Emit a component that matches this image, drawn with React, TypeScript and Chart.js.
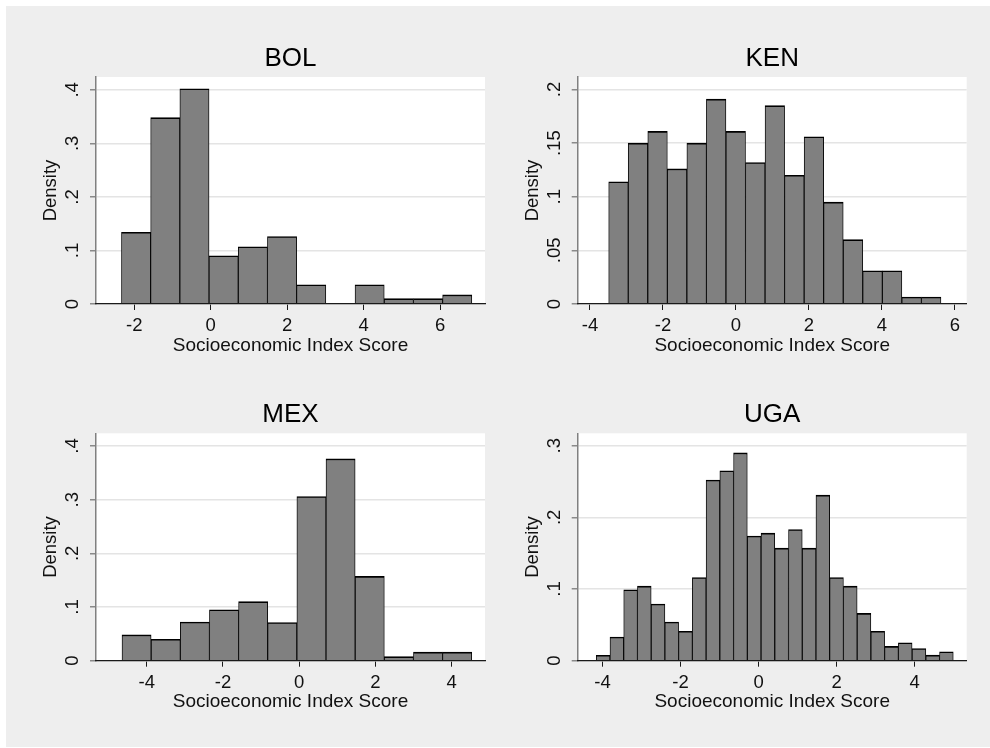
import React, { useEffect, useRef } from 'react';
import { Chart, registerables } from 'chart.js';

Chart.register(...registerables);

// ---------------- data ----------------
const BOL_BINS = [-1.952, -1.189, -0.426, 0.337, 1.101, 1.864, 2.627, 3.391, 4.154, 4.917, 5.681, 6.444];
const BOL_DENSITY = [0.134, 0.348, 0.402, 0.09, 0.107, 0.126, 0.036, 0, 0.036, 0.01, 0.01, 0.017];
const BOL_XTICKS = [-2, 0, 2, 4, 6];
const BOL_YTICKS = [0, 0.1, 0.2, 0.3, 0.4];
const BOL_XRANGE = [-3.0, 7.17];
const BOL_YMAX = 0.424;

const KEN_BINS = [-3.22, -2.685, -2.149, -1.614, -1.078, -0.543, -0.007, 0.528, 1.064, 1.599, 2.135, 2.67, 3.206, 3.741, 4.277, 4.812, 5.348];
const KEN_DENSITY = [0.114, 0.15, 0.161, 0.126, 0.15, 0.191, 0.161, 0.132, 0.185, 0.12, 0.156, 0.095, 0.06, 0.031, 0.031, 0.0065, 0.0065];
const KEN_XTICKS = [-4, -2, 0, 2, 4, 6];
const KEN_YTICKS = [0, 0.05, 0.1, 0.15, 0.2];
const KEN_XRANGE = [-4.337, 6.321];
const KEN_YMAX = 0.2117;

const MEX_BINS = [-4.266, -3.501, -2.737, -1.972, -1.208, -0.444, 0.321, 1.085, 1.85, 2.614, 3.379, 4.143];
const MEX_DENSITY = [0.048, 0.04, 0.072, 0.095, 0.11, 0.071, 0.306, 0.376, 0.157, 0.0075, 0.016, 0.016];
const MEX_XTICKS = [-4, -2, 0, 2, 4];
const MEX_YTICKS = [0, 0.1, 0.2, 0.3, 0.4];
const MEX_XRANGE = [-5.33, 4.873];
const MEX_YMAX = 0.4237;

const UGA_BINS = [-3.985, -3.633, -3.281, -2.929, -2.577, -2.226, -1.874, -1.522, -1.17, -0.818, -0.466, -0.114, 0.238, 0.59, 0.942, 1.294, 1.645, 1.997, 2.349, 2.701, 3.053, 3.405, 3.757, 4.109, 4.461, 4.812];
const UGA_DENSITY = [0.0075, 0.033, 0.099, 0.104, 0.079, 0.054, 0.041, 0.116, 0.252, 0.265, 0.29, 0.174, 0.178, 0.157, 0.183, 0.157, 0.231, 0.116, 0.104, 0.066, 0.041, 0.02, 0.025, 0.017, 0.0078, 0.0125];
const UGA_XTICKS = [-4, -2, 0, 2, 4];
const UGA_YTICKS = [0, 0.1, 0.2, 0.3];
const UGA_XRANGE = [-4.636, 5.332];
const UGA_YMAX = 0.3173;

const X_TITLE = 'Socioeconomic Index Score';
const Y_TITLE = 'Density';

// ---------------- layout / style ----------------
const FONT = '"Liberation Sans", Arial, Helvetica, sans-serif';

const COLS = [
  { x: 6, w: 489, yAxisW: 90, padRight: 10, yTitlePad: 33.7 },
  { x: 495, w: 495, yAxisW: 82.7, padRight: 23.3, yTitlePad: 26.4 },
];
const ROWS = [
  { y: 6, h: 368, titleTop: 37.1, titleBottom: 2.7, xAxisH: 70, xTitlePad: 17.2 },
  { y: 374, h: 373, titleTop: 25.4, titleBottom: 2.7, xAxisH: 86.3, xTitlePad: 33.9 },
];

const PANELS = [
  { name: 'BOL', bins: BOL_BINS, density: BOL_DENSITY, xTicks: BOL_XTICKS, yTicks: BOL_YTICKS, xRange: BOL_XRANGE, yMax: BOL_YMAX, col: 0, row: 0 },
  { name: 'KEN', bins: KEN_BINS, density: KEN_DENSITY, xTicks: KEN_XTICKS, yTicks: KEN_YTICKS, xRange: KEN_XRANGE, yMax: KEN_YMAX, col: 1, row: 0 },
  { name: 'MEX', bins: MEX_BINS, density: MEX_DENSITY, xTicks: MEX_XTICKS, yTicks: MEX_YTICKS, xRange: MEX_XRANGE, yMax: MEX_YMAX, col: 0, row: 1 },
  { name: 'UGA', bins: UGA_BINS, density: UGA_DENSITY, xTicks: UGA_XTICKS, yTicks: UGA_YTICKS, xRange: UGA_XRANGE, yMax: UGA_YMAX, col: 1, row: 1 },
];

const fmtY = (v: number) => {
  if (v === 0) return '0';
  const s = String(Number(v.toFixed(3)));
  return s.replace(/^0\./, '.');
};

function Panel({ panel }: { panel: any }) {
  const ref = useRef<HTMLCanvasElement | null>(null);
  const col = COLS[panel.col];
  const row = ROWS[panel.row];

  useEffect(() => {
    if (!ref.current) return;

    const plotBg = {
      id: 'plotBg',
      beforeDraw(chart: any) {
        const { ctx, chartArea } = chart;
        ctx.save();
        ctx.fillStyle = '#ffffff';
        ctx.fillRect(chartArea.left, chartArea.top, chartArea.right - chartArea.left, chartArea.bottom - chartArea.top);
        ctx.restore();
      },
    };

    const yLabels = {
      id: 'yLabels',
      afterDraw(chart: any) {
        const { ctx, chartArea } = chart;
        const s = chart.scales.y;
        ctx.save();
        ctx.fillStyle = '#111111';
        ctx.font = `18.5px ${FONT}`;
        ctx.textAlign = 'center';
        ctx.textBaseline = 'middle';
        for (const t of s.ticks) {
          const py = s.getPixelForValue(t.value);
          ctx.save();
          ctx.translate(chartArea.left - 23, py);
          ctx.rotate(-Math.PI / 2);
          ctx.fillText(fmtY(t.value), 0, 0);
          ctx.restore();
        }
        ctx.restore();
      },
    };

    const chart = new Chart(ref.current, {
      type: 'bar',
      data: {
        datasets: [
          {
            data: panel.bins.map((x: number, i: number) => ({ x, y: panel.density[i] })),
            backgroundColor: '#808080',
            borderColor: '#000000',
            borderWidth: { top: 1.6, left: 0.9, right: 0.9, bottom: 0 },
            borderSkipped: false,
            categoryPercentage: 1,
            barPercentage: 1,
          } as any,
        ],
      },
      plugins: [plotBg, yLabels],
      options: {
        responsive: false,
        animation: false,
        events: [],
        layout: { padding: { left: 0, right: col.padRight, top: 0, bottom: 0 } },
        plugins: {
          legend: { display: false },
          tooltip: { enabled: false },
          title: {
            display: true,
            text: panel.name,
            fullSize: false,
            color: '#000000',
            font: { family: FONT, size: 26, weight: 'normal', lineHeight: 1.2 },
            padding: { top: row.titleTop, bottom: row.titleBottom },
          },
        },
        scales: {
          x: {
            type: 'linear',
            min: panel.xRange[0],
            max: panel.xRange[1],
            offset: false,
            afterBuildTicks: (s: any) => {
              s.ticks = panel.xTicks.map((v: number) => ({ value: v }));
            },
            afterFit: (s: any) => {
              s.height = row.xAxisH;
            },
            grid: {
              display: true,
              drawOnChartArea: false,
              drawTicks: true,
              tickLength: 6,
              tickColor: '#1a1a1a',
              color: '#1a1a1a',
              lineWidth: 1,
              offset: false,
            },
            border: { display: true, color: '#1a1a1a', width: 1.3, z: 1 },
            ticks: {
              color: '#111111',
              font: { family: FONT, size: 18.5, lineHeight: 1.2 },
              padding: 5,
              minRotation: 0,
              maxRotation: 0,
              autoSkip: false,
              callback: (v: any) => String(v),
            },
            title: {
              display: true,
              text: X_TITLE,
              color: '#111111',
              font: { family: FONT, size: 19, lineHeight: 1.2 },
              padding: { top: 0, bottom: row.xTitlePad },
            },
          },
          y: {
            type: 'linear',
            min: 0,
            max: panel.yMax,
            afterBuildTicks: (s: any) => {
              s.ticks = panel.yTicks.map((v: number) => ({ value: v }));
            },
            afterFit: (s: any) => {
              s.width = col.yAxisW;
            },
            grid: {
              color: '#e4e4e4',
              lineWidth: 1.5,
              tickColor: '#8a8a8a',
              tickLength: 6,
              drawTicks: true,
            },
            border: { display: true, color: '#808080', width: 1.5 },
            ticks: { display: false },
            title: {
              display: true,
              text: Y_TITLE,
              color: '#111111',
              font: { family: FONT, size: 18.5, lineHeight: 1.2 },
              padding: { top: col.yTitlePad, bottom: 0 },
            },
          },
        },
      } as any,
    });
    return () => chart.destroy();
  }, []);

  return (
    <canvas
      ref={ref}
      width={col.w}
      height={row.h}
      style={{ position: 'absolute', left: col.x, top: row.y, width: col.w, height: row.h, display: 'block' }}
    />
  );
}

export default function App() {
  return (
    <div style={{ position: 'absolute', left: 0, top: 0, width: 990, height: 748, background: '#ffffff', overflow: 'hidden' }}>
      <div style={{ position: 'absolute', left: 6, top: 6, width: 984, height: 741, background: '#eeeeee' }} />
      {PANELS.map((p) => (
        <Panel key={p.name} panel={p} />
      ))}
    </div>
  );
}
